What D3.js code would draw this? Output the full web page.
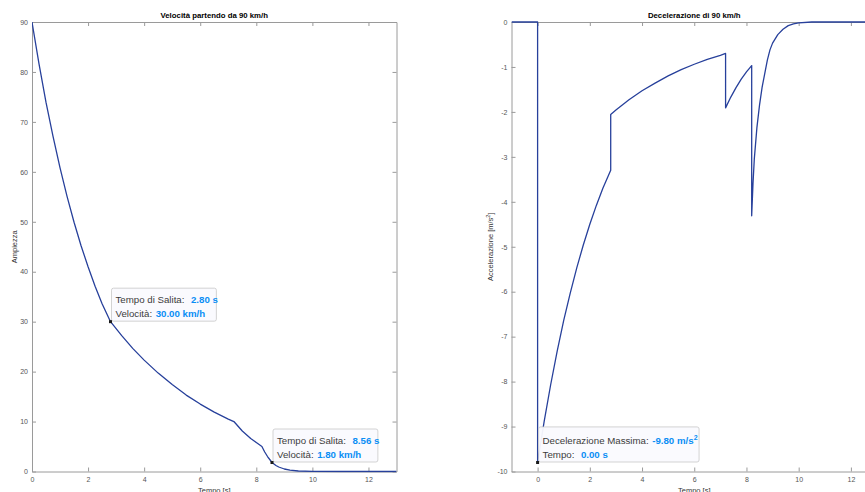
<!DOCTYPE html>
<html>
<head>
<meta charset="utf-8">
<script src="https://cdn.jsdelivr.net/npm/d3@7"></script>
<style>
  body { margin: 0; background: #fff; }
  svg { font-family: "Liberation Sans", Arial, sans-serif; }
</style>
</head>
<body>
<script>
// velocity (km/h over seconds)
var velT = [0, 0.25, 0.5, 0.75, 1, 1.25, 1.5, 1.75, 2, 2.25, 2.5, 2.8, 3.2, 3.6, 4, 4.5, 5, 5.5, 6, 6.5, 7, 7.2,
  7.5, 7.8, 8, 8.2, 8.3, 8.4, 8.5, 8.56, 8.7, 8.8, 9, 9.2, 9.5, 10, 11, 13];
var velV = [90, 81.6, 73.9, 67.1, 60.8, 55.1, 49.9, 45.2, 41.0, 37.1, 33.6, 30.0, 27.2, 24.6, 22.3, 19.7, 17.4, 15.3, 13.5, 11.9, 10.5, 10.0,
  8.1, 6.6, 5.8, 5.0, 3.9, 3.0, 2.25, 1.8, 1.2, 0.9, 0.5, 0.27, 0.1, 0.02, 0, 0];

// deceleration (m/s^2 over seconds)
var accT = [-1, 0, 0, 0.25, 0.5, 0.75, 1, 1.25, 1.5, 1.75, 2, 2.25, 2.5, 2.8,
  2.8, 3, 3.5, 4, 4.5, 5, 5.5, 6, 6.5, 7, 7.2,
  7.2, 7.4, 7.6, 7.8, 8, 8.2,
  8.2, 8.25, 8.3, 8.4, 8.5, 8.6, 8.7, 8.8, 8.9, 9, 9.2, 9.4, 9.6, 9.8, 10, 10.5, 13];
var accA = [0, 0, -9.8, -8.89, -8.07, -7.32, -6.64, -6.03, -5.47, -4.96, -4.50, -4.08, -3.70, -3.30,
  -2.06, -1.96, -1.73, -1.53, -1.36, -1.20, -1.06, -0.94, -0.83, -0.74, -0.70,
  -1.91, -1.67, -1.46, -1.27, -1.11, -0.97,
  -4.31, -3.6, -3.05, -2.35, -1.85, -1.45, -1.15, -0.85, -0.62, -0.47, -0.28, -0.16, -0.08, -0.04, -0.02, 0, 0];

// ticks
var velXTicks = [0, 2, 4, 6, 8, 10, 12];
var velYTicks = [0, 10, 20, 30, 40, 50, 60, 70, 80, 90];
var accXTicks = [0, 2, 4, 6, 8, 10, 12];
var accYTicks = [0, -1, -2, -3, -4, -5, -6, -7, -8, -9, -10];

// data tips
var tipVelT = [2.80, 8.56];
var tipVelV = [30.00, 1.80];
var tipAccT = [0.00];
var tipAccA = [-9.80];

var svgWidth = 865;
var svgHeight = 492;
var lineColor = "#27409b";
var axisColor = "#9a9a9a";
var tickText = "#555";
var tipBlue = "#0a8ef5";

var svg = d3.select("body")
  .append("svg")
  .attr("width", svgWidth)
  .attr("height", svgHeight);

// build one panel with boxed axes and inward ticks
function makePanel(id, left, right, top, bottom, xDomain, yDomain, xTicks, yTicks) {
  var x = d3.scaleLinear().domain(xDomain).range([left, right]);
  var y = d3.scaleLinear().domain(yDomain).range([bottom, top]);
  var g = svg.append("g");

  svg.append("clipPath").attr("id", id)
    .append("rect")
    .attr("x", left).attr("y", top - 1)
    .attr("width", right - left).attr("height", bottom - top + 2);

  var fmt = d => String(d);

  var axes = [
    g.append("g").attr("transform", `translate(0,${bottom})`)
      .call(d3.axisBottom(x).tickValues(xTicks).tickSize(-4).tickSizeOuter(0).tickPadding(6).tickFormat(fmt)),
    g.append("g").attr("transform", `translate(0,${top})`)
      .call(d3.axisTop(x).tickValues(xTicks).tickSize(-4).tickSizeOuter(0).tickFormat("")),
    g.append("g").attr("transform", `translate(${left},0)`)
      .call(d3.axisLeft(y).tickValues(yTicks).tickSize(-4).tickSizeOuter(0).tickPadding(4).tickFormat(fmt)),
    g.append("g").attr("transform", `translate(${right},0)`)
      .call(d3.axisRight(y).tickValues(yTicks).tickSize(-4).tickSizeOuter(0).tickFormat(""))
  ];

  axes.forEach(function (a) {
    a.attr("font-family", null).attr("font-size", 7);
    a.select(".domain").attr("stroke", axisColor);
    a.selectAll(".tick line").attr("stroke", axisColor);
    a.selectAll(".tick text").attr("fill", tickText);
  });

  return { x: x, y: y, g: g, id: id };
}

function drawLine(panel, xs, ys) {
  var pts = xs.map((t, i) => [t, ys[i]]);
  panel.g.append("path")
    .datum(pts)
    .attr("clip-path", `url(#${panel.id})`)
    .attr("fill", "none")
    .attr("stroke", lineColor)
    .attr("stroke-width", 1.3)
    .attr("stroke-linejoin", "round")
    .attr("d", d3.line().x(d => panel.x(d[0])).y(d => panel.y(d[1])));
}

// data tip: lines = [[label, value, unit, sup, gap]]
function drawTip(panel, t, v, lines) {
  var mx = panel.x(t);
  var my = panel.y(v);
  var hasSup = lines.some(l => l[3]);
  var bottom = my - 0.5;
  var base2 = bottom - 4.5;
  var base1 = base2 - 14;
  var top = base1 - (hasSup ? 16.6 : 14.5);
  var left = mx + 1;

  var tg = panel.g.append("g");
  var box = tg.append("rect")
    .attr("x", left).attr("y", top)
    .attr("height", bottom - top)
    .attr("rx", 2)
    .attr("fill", "#fafafe")
    .attr("fill-opacity", 0.95)
    .attr("stroke", "#c8c8c8")
    .attr("stroke-width", 0.8);

  var maxW = 0;
  lines.forEach(function (l, i) {
    var txt = tg.append("text")
      .attr("x", left + 4)
      .attr("y", i === 0 ? base1 : base2)
      .attr("font-size", 9.7)
      .attr("fill", "#3c3c3c");
    txt.append("tspan").text(l[0]);
    txt.append("tspan")
      .attr("dx", l[4])
      .attr("fill", tipBlue)
      .attr("font-weight", "bold")
      .text(l[1] + " " + l[2]);
    if (l[3]) {
      txt.append("tspan")
        .attr("dy", -4)
        .attr("font-size", 7)
        .attr("fill", tipBlue)
        .attr("font-weight", "bold")
        .text(l[3]);
    }
    maxW = Math.max(maxW, txt.node().getComputedTextLength());
  });
  box.attr("width", maxW + 9);

  panel.g.append("rect")
    .attr("x", mx - 1.5).attr("y", my - 1.5)
    .attr("width", 3).attr("height", 3)
    .attr("fill", "#1a1a1a");
}

// left panel: velocity
var velPanel = makePanel("clipVel", 32, 396.5, 22, 471.5, [0, 13], [0, 90], velXTicks, velYTicks);
drawLine(velPanel, velT, velV);
tipVelT.forEach(function (t, i) {
  drawTip(velPanel, t, tipVelV[i], [
    ["Tempo di Salita:", t.toFixed(2), "s", null, 6.5],
    ["Velocità:", tipVelV[i].toFixed(2), "km/h", null, 3.5]
  ]);
});

// right panel: deceleration
var accPanel = makePanel("clipAcc", 511.5, 877, 22, 471.5, [-1, 13], [-10, 0], accXTicks, accYTicks);
drawLine(accPanel, accT, accA);
tipAccT.forEach(function (t, i) {
  drawTip(accPanel, t, tipAccA[i], [
    ["Decelerazione Massima:", tipAccA[i].toFixed(2), "m/s", "2", 3.5],
    ["Tempo:", t.toFixed(2), "s", null, 6.5]
  ]);
});

// titles and axis labels
svg.append("text")
  .attr("x", 214.25).attr("y", 18)
  .attr("text-anchor", "middle")
  .attr("font-size", 7.8).attr("font-weight", "bold")
  .text("Velocità partendo da 90 km/h");

svg.append("text")
  .attr("x", 694.25).attr("y", 18)
  .attr("text-anchor", "middle")
  .attr("font-size", 7.8).attr("font-weight", "bold")
  .text("Decelerazione di 90 km/h");

[214.25, 694.25].forEach(function (cx) {
  svg.append("text")
    .attr("x", cx).attr("y", 493.2)
    .attr("text-anchor", "middle")
    .attr("font-size", 7.5)
    .attr("fill", "#333")
    .text("Tempo [s]");
});

svg.append("text")
  .attr("transform", "translate(16.7,246.8) rotate(-90)")
  .attr("text-anchor", "middle")
  .attr("font-size", 7.5)
  .attr("fill", "#333")
  .text("Ampiezza");

var accLabel = svg.append("text")
  .attr("transform", "translate(492.5,246.8) rotate(-90)")
  .attr("text-anchor", "middle")
  .attr("font-size", 7.5)
  .attr("fill", "#333");
accLabel.append("tspan").text("Accelerazione [m/s");
accLabel.append("tspan").attr("dy", -3).attr("font-size", 5.5).text("2");
accLabel.append("tspan").attr("dy", 3).text("]");
</script>
</body>
</html>
